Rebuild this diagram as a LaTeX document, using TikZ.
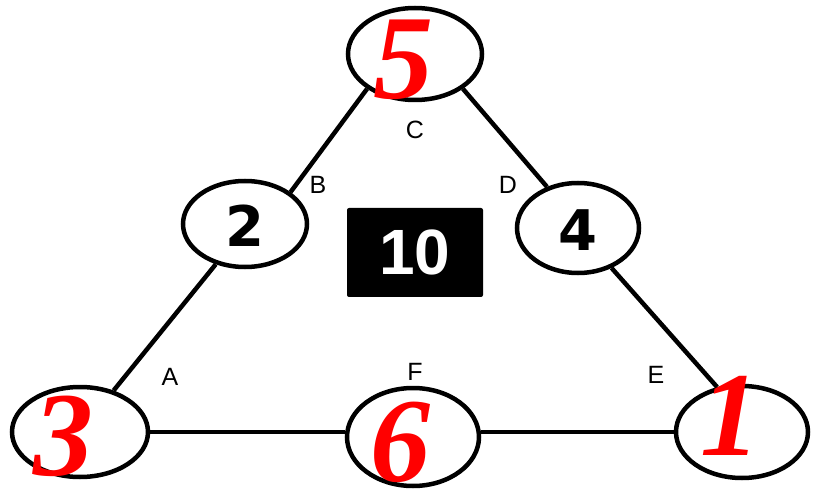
\documentclass[tikz,border=0pt]{standalone}
\usepackage{fontspec}
\setmainfont{Liberation Serif}
\newfontfamily\labfont{Liberation Sans}
\newfontfamily\numfont{DejaVu Sans}
\usetikzlibrary{shapes.geometric}
\definecolor{numred}{RGB}{255,0,0}
\tikzset{
  circ/.style={ellipse, draw=black, line width=4.5pt, fill=white, inner sep=0pt},
  edge/.style={line width=4.5pt},
  lab/.style={font=\labfont\fontsize{25}{25}\selectfont, inner sep=0pt},
  rednum/.style={text=numred, inner sep=0pt, font=\bfseries\itshape\fontsize{120}{120}\selectfont},
  blacknum/.style={inner sep=0pt, font=\numfont\bfseries\fontsize{56}{56}\selectfont},
}
\begin{document}
\begin{tikzpicture}[x=1pt,y=-1pt]
\useasboundingbox (0,0) rectangle (817,497);
\fill[white] (0,0) rectangle (817,497);
% circles
\node[circ, minimum width=134pt, minimum height=92pt] (c5) at (415,54) {};
\node[circ, minimum width=124pt, minimum height=86pt] (c2) at (245,224) {};
\node[circ, minimum width=122pt, minimum height=90pt] (c4) at (578,228) {};
\node[circ, minimum width=136pt, minimum height=90pt] (c3) at (80,432) {};
\node[circ, minimum width=132pt, minimum height=98pt] (c6) at (413,437) {};
\node[circ, minimum width=132pt, minimum height=92pt] (c1) at (742,432) {};
% edges
\draw[edge] (c5.216) -- (c2.35);
\draw[edge] (c2.234) -- (c3.51);
\draw[edge] (c5.324) -- (c4.127);
\draw[edge] (c4.310) -- (c1.119);
\draw[edge] (c3.east) -- (c3.east -| c6.west);
\draw[edge] (c1.west -| c6.east) -- (c1.west);
% centre box
\node[fill=black, rounded corners=2pt, minimum width=136pt, minimum height=89pt, inner sep=0pt] (box) at (415,252.5) {};
\node[text=white, inner sep=0pt, font=\labfont\bfseries\fontsize{64}{64}\selectfont] (ten) at (box.center) {10};
% numbers
\node[blacknum] (n2) at (245,226) {2};
\node[blacknum] (n4) at (578,230) {4};
\node[rednum] (n5) at (403,60) {5};
\node[rednum] (n3) at (64,436) {3};
\node[rednum] (n6) at (400,442) {6};
\node[rednum] (n1) at (730,416) {1};
% letters
\node[lab] (lC) at (415,130) {C};
\node[lab] (lB) at (318,185) {B};
\node[lab] (lD) at (508,185) {D};
\node[lab] (lA) at (170,377) {A};
\node[lab] (lF) at (415,372) {F};
\node[lab] (lE) at (656,375) {E};
\end{tikzpicture}
\end{document}
